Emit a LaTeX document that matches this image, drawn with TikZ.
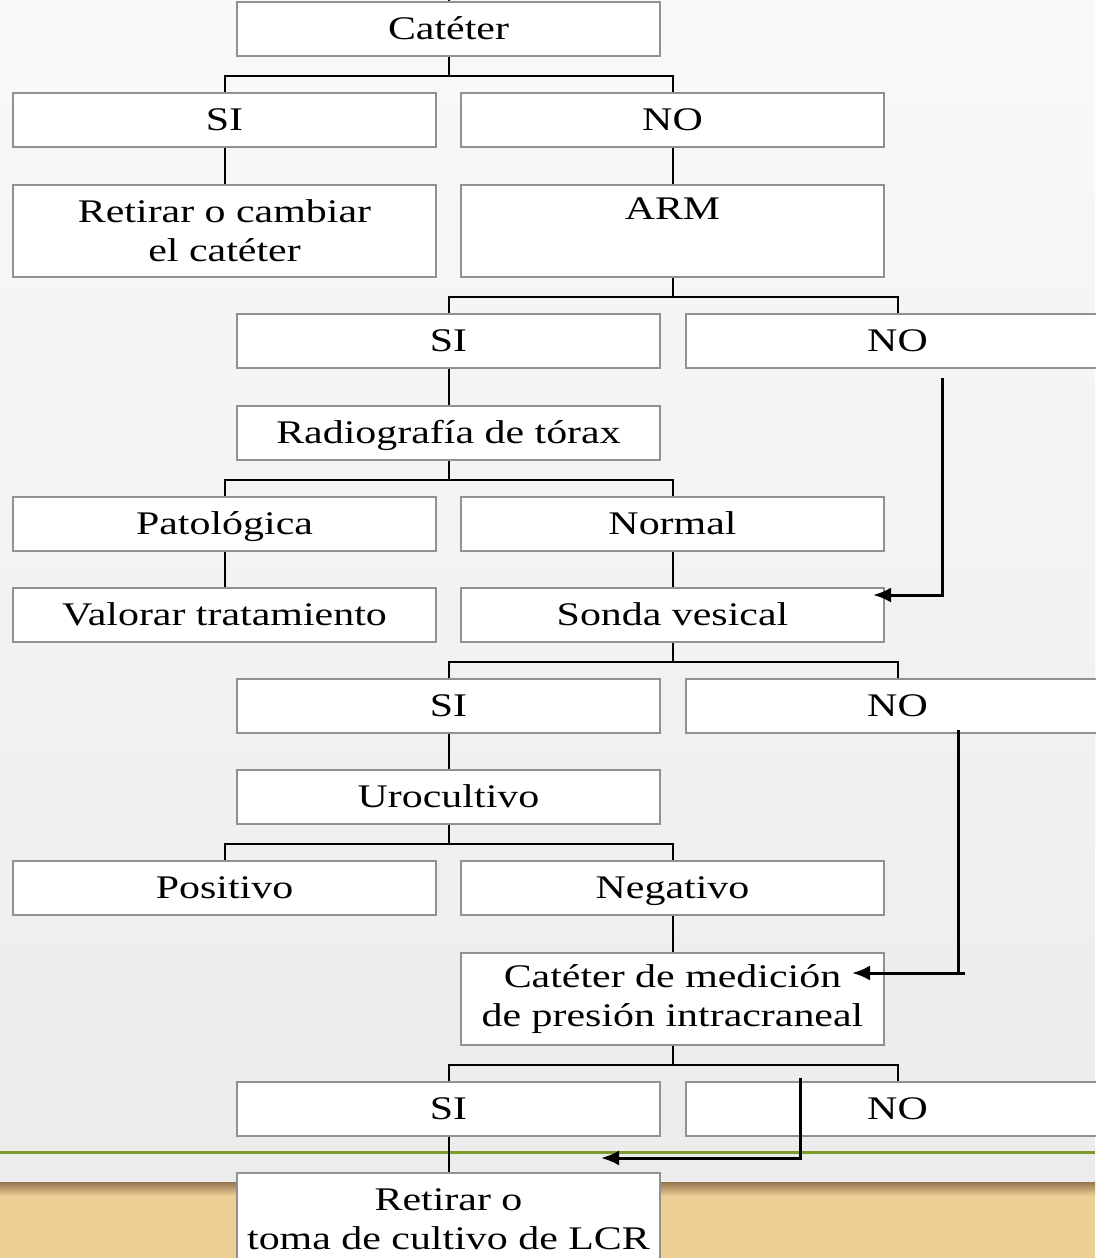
\documentclass[tikz,border=0pt]{standalone}
\usepackage{fontspec}
\setmainfont{Liberation Serif}[FakeStretch=1.27]
\usepackage{tikz}
\usetikzlibrary{arrows.meta}

\definecolor{boxgray}{RGB}{145,145,145}
\definecolor{olivegreen}{RGB}{125,155,40}
\definecolor{tanband}{RGB}{237,207,149}
\definecolor{tandark}{RGB}{150,118,80}

\begin{document}
\begin{tikzpicture}[x=1pt, y=-1pt,
    boxbase/.style={draw=boxgray, fill=white, line width=1.6pt, inner sep=0pt,
      minimum width=423pt, align=center,
      font=\fontsize{33}{39}\selectfont},
    box/.style={boxbase, minimum height=54pt, text height=26pt, text depth=6pt},
    tallbox/.style={boxbase, minimum height=92pt},
    link/.style={black, line width=2pt},
    jump/.style={black, line width=3pt},
    tip/.style={jump, -{Latex[length=18pt, width=15pt]}}]
  \useasboundingbox (0,0) rectangle (1095,1258);

  % Background and bottom band
  \shade[top color=gray!5, bottom color=gray!15] (0,0) rectangle (1095,1182);
  \fill[tanband] (0,1182) rectangle (1095,1266);
  \shade[top color=tandark, bottom color=tanband] (0,1182) rectangle (1095,1196);
  \draw[olivegreen, line width=3pt] (0,1152) -- (1095,1152);

  % Boxes
  \node[box] (cat) at (448.5,29) {Catéter};
  \node[box] (si1) at (224.5,120) {SI};
  \node[box] (no1) at (672.5,120) {NO};
  \node[tallbox] (ret1) at (224.5,231) {Retirar o cambiar\\el catéter};
  \node[tallbox] (arm) at (672.5,231) {\strut ARM\\\strut};
  \node[box] (si2) at (448.5,341) {SI};
  \node[box] (no2) at (897.5,341) {NO};
  \node[box] (rad) at (448.5,433) {Radiografía de tórax};
  \node[box] (pat) at (224.5,524) {Patológica};
  \node[box] (nor) at (672.5,524) {Normal};
  \node[box] (val) at (224.5,615) {Valorar tratamiento};
  \node[box] (son) at (672.5,615) {Sonda vesical};
  \node[box] (si3) at (448.5,706) {SI};
  \node[box] (no3) at (897.5,706) {NO};
  \node[box] (uro) at (448.5,797) {Urocultivo};
  \node[box] (pos) at (224.5,888) {Positivo};
  \node[box] (neg) at (672.5,888) {Negativo};
  \node[tallbox] (med) at (672.5,999) {Catéter de medición\\de presión intracraneal};
  \node[box] (si4) at (448.5,1109) {SI};
  \node[box] (no4) at (897.5,1109) {NO};
  \node[tallbox] (ret2) at (448.5,1219) {Retirar o\\toma de cultivo de LCR};

  % Tree connectors
  \coordinate (top) at (448.5,0);
  \draw[link] (top) -- (cat.north);
  \foreach \p/\l/\r in {cat/si1/no1, arm/si2/no2, rad/pat/nor,
                        son/si3/no3, uro/pos/neg, med/si4/no4} {
    \draw[link] (\p.south) -- ++(0,19) -| (\l.north);
    \draw[link] (\p.south) ++(0,19) -| (\r.north);
  }
  \foreach \a/\b in {si1/ret1, no1/arm, si2/rad, pat/val,
                     nor/son, si3/uro, neg/med, si4/ret2}
    \draw[link] (\a.south) -- (\b.north);

  % NO jumps
  \coordinate (j1) at (942,378);
  \coordinate (j1e) at (873,595);
  \draw[tip] (j1) |- (j1e);

  \coordinate (j2) at (958,730);
  \coordinate (j2s) at (965,973);
  \coordinate (j2e) at (852,973);
  \draw[jump] (j2) -- (j2 |- j2s);
  \draw[tip] (j2s) -- (j2e);

  \coordinate (j3) at (800,1078);
  \coordinate (j3e) at (601,1158);
  \draw[tip] (j3) |- (j3e);
\end{tikzpicture}
\end{document}
